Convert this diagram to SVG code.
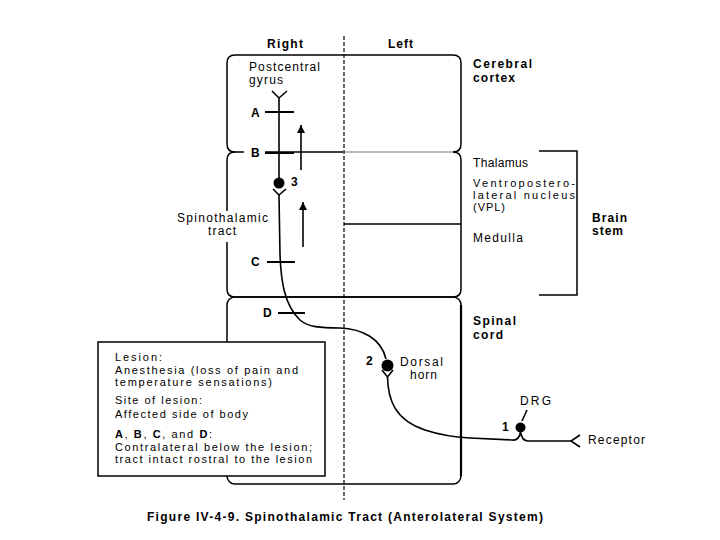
<svg xmlns="http://www.w3.org/2000/svg" width="720" height="540" viewBox="0 0 720 540">
<style>
.t{font-family:"Liberation Sans",Arial,sans-serif;font-size:12px;fill:#000}
.s{font-size:11px}
.b{font-weight:bold;font-size:12px}
.box{fill:none;stroke:#000;stroke-width:1.5}
.ln{fill:none;stroke:#000;stroke-width:1.6}
.tk{stroke:#000;stroke-width:2}
.cell{fill:#000}
</style>
<defs>
<marker id="ah" viewBox="0 0 10 10" refX="10" refY="5" markerUnits="userSpaceOnUse" markerWidth="10" markerHeight="8" orient="auto">
<path d="M0,0 L10,5 L0,10 z" fill="#000"/>
</marker>
</defs>
<rect width="720" height="540" fill="#fff"/>

<g id="header">
<text class="t b" x="267" y="48" textLength="36" lengthAdjust="spacing">Right</text>
<text class="t b" x="388" y="48" textLength="25" lengthAdjust="spacing">Left</text>
<line x1="344" y1="36" x2="344" y2="500" stroke="#000" stroke-width="1.2" stroke-dasharray="4 2"/>
</g>

<g id="cerebral-cortex">
<path class="box" d="M235,55 H453 Q461,55 461,63 V144 Q461,152 453,152 M235,152 Q227,152 227,144 V63 Q227,55 235,55"/>
<text class="t" x="249" y="71" textLength="71" lengthAdjust="spacing">Postcentral</text>
<text class="t" x="249" y="84" textLength="34" lengthAdjust="spacing">gyrus</text>
<text class="t b" x="473" y="68" textLength="59" lengthAdjust="spacing">Cerebral</text>
<text class="t b" x="473" y="82" textLength="42" lengthAdjust="spacing">cortex</text>
</g>

<g id="brain-stem">
<path class="box" d="M235,152 H244 M265,152 H343"/>
<path d="M345,152 H453" fill="none" stroke="#777" stroke-width="1"/>
<path class="box" d="M453,152 Q461,152 461,160 V289 Q461,297 453,297 H235 Q227,297 227,289 V242 M227,211 V160 Q227,152 235,152"/>
<line class="box" x1="344" y1="224" x2="461" y2="224"/>
<text class="t" x="473" y="167" textLength="55" lengthAdjust="spacing">Thalamus</text>
<text class="t s" x="473" y="187" textLength="102" lengthAdjust="spacing">Ventropostero-</text>
<text class="t s" x="473" y="199" textLength="102" lengthAdjust="spacing">lateral nucleus</text>
<text class="t s" x="473" y="211" textLength="32" lengthAdjust="spacing">(VPL)</text>
<text class="t" x="473" y="242" textLength="50" lengthAdjust="spacing">Medulla</text>
<path class="box" d="M539,151 H577 V295 H539"/>
<text class="t b" x="592" y="222" textLength="35" lengthAdjust="spacing">Brain</text>
<text class="t b" x="592" y="235" textLength="31" lengthAdjust="spacing">stem</text>
<text class="t" x="177" y="222" textLength="91" lengthAdjust="spacing">Spinothalamic</text>
<text class="t" x="208" y="235" textLength="28" lengthAdjust="spacing">tract</text>
</g>

<g id="spinal-cord">
<rect class="box" x="227" y="297" width="234" height="187" rx="8"/>
<line x1="461" y1="305" x2="461" y2="476" stroke="#000" stroke-width="2.2"/>
<text class="t b" x="473" y="325" textLength="43" lengthAdjust="spacing">Spinal</text>
<text class="t b" x="473" y="339" textLength="30" lengthAdjust="spacing">cord</text>
</g>

<g id="connectors">
<path class="ln" d="M272,91 L279,98 L287,91 M279,98 V178"/>
<path class="ln" d="M273,189 L279,195 L286,189"/>
<path class="ln" d="M279,195 L280,255 C281,280 284,305 300,320 C308,327 320,328 340,328 C362,329 381,338 386,359"/>
<path class="ln" d="M382,370 L387.5,377 L393,370"/>
<path class="ln" d="M387.5,377 C388,400 395,420 425,430 C440,435 452,437 470,438 L512,440 Q519,441 520.5,432 Q522,441 528,441 L571,441"/>
<path class="ln" d="M580,435 L571,441 L580,447"/>
<path class="ln" d="M522,421 L527,410" stroke-width="1.2"/>
<line class="ln" x1="301" y1="170" x2="301" y2="125" marker-end="url(#ah)"/>
<line class="ln" x1="303" y1="247" x2="303" y2="202" marker-end="url(#ah)"/>
</g>

<g id="lesions">
<line class="tk" x1="265" y1="112" x2="294" y2="112"/>
<line class="tk" x1="265" y1="153" x2="294" y2="153"/>
<line class="tk" x1="267" y1="262" x2="295" y2="262"/>
<line class="tk" x1="278" y1="313" x2="305" y2="313"/>
<text class="t b" x="251" y="117">A</text>
<text class="t b" x="251" y="157">B</text>
<text class="t b" x="251" y="266">C</text>
<text class="t b" x="263" y="317">D</text>
</g>

<g id="neuron-3">
<circle class="cell" cx="279" cy="183" r="5.5"/>
<text class="t b" x="291" y="186" font-size="10">3</text>
</g>
<g id="neuron-2">
<circle class="cell" cx="387.5" cy="365.5" r="6"/>
<text class="t b" x="366" y="365" font-size="10">2</text>
<text class="t" x="400" y="366" textLength="43" lengthAdjust="spacing">Dorsal</text>
<text class="t" x="410" y="379" textLength="27" lengthAdjust="spacing">horn</text>
</g>
<g id="neuron-1">
<circle class="cell" cx="520.5" cy="427.5" r="5"/>
<text class="t b" x="502" y="431" font-size="10">1</text>
<text class="t" x="520" y="405" textLength="31" lengthAdjust="spacing">DRG</text>
</g>
<g id="receptor">
<text class="t" x="588" y="444" textLength="57" lengthAdjust="spacing">Receptor</text>
</g>

<g id="lesion-box">
<rect x="98" y="342" width="227" height="134" fill="#fff" stroke="#000" stroke-width="1.5"/>
<text class="t s" x="115" y="361" textLength="47" lengthAdjust="spacing">Lesion:</text>
<text class="t s" x="115" y="374" textLength="183" lengthAdjust="spacing">Anesthesia (loss of pain and</text>
<text class="t s" x="115" y="386" textLength="157" lengthAdjust="spacing">temperature sensations)</text>
<text class="t s" x="115" y="404" textLength="87" lengthAdjust="spacing">Site of lesion:</text>
<text class="t s" x="115" y="418" textLength="133" lengthAdjust="spacing">Affected side of body</text>
<text class="t s" x="115" y="438" letter-spacing="1.6"><tspan font-weight="bold">A</tspan>, <tspan font-weight="bold">B</tspan>, <tspan font-weight="bold">C</tspan>, and <tspan font-weight="bold">D</tspan>:</text>
<text class="t s" x="115" y="451" textLength="197" lengthAdjust="spacing">Contralateral below the lesion;</text>
<text class="t s" x="115" y="463" textLength="197" lengthAdjust="spacing">tract intact rostral to the lesion</text>
</g>

<g id="caption">
<text class="t b" x="147" y="521" font-size="12.5" textLength="396" lengthAdjust="spacing">Figure IV-4-9. Spinothalamic Tract (Anterolateral System)</text>
</g>
</svg>
